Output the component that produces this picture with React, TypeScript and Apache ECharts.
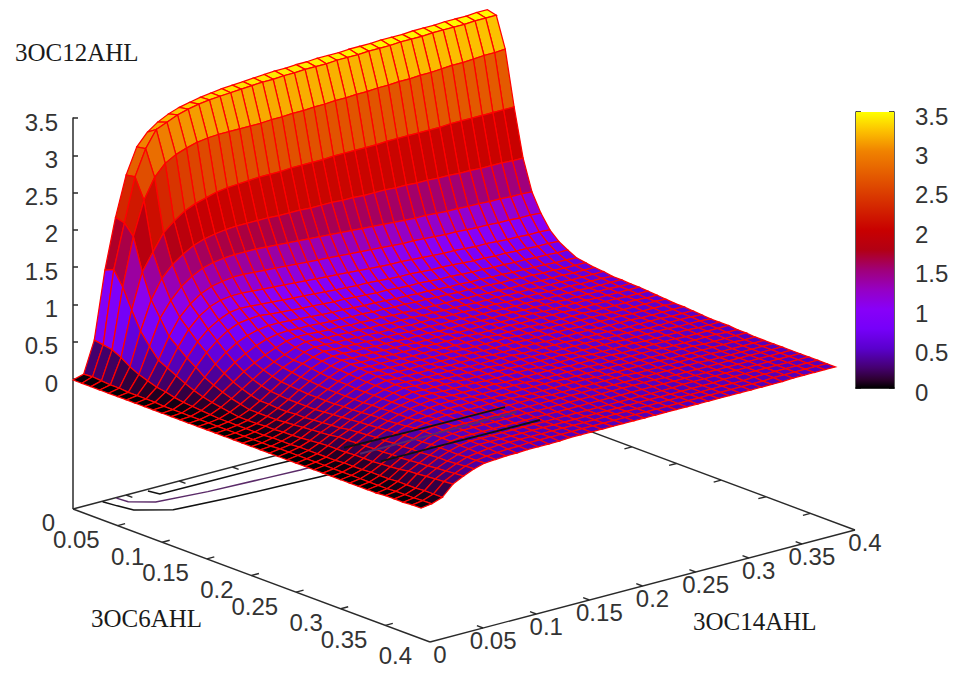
import React, { useEffect, useRef } from "react";
import * as echarts from "echarts";

const xGrid = [0,.01,.02,.03,.04,.05,.06,.07,.08,.09,.1,.11,.12,.13,.14,.15,.16,.17,.18,.19,.2,.21,.22,.23,.24,.25,.26,.27,.28,.29,.3,.31,.32,.33,.34,.35,.36,.37,.38,.39];
const yGrid = xGrid;
// one row per 3OC6AHL value, one column per 3OC14AHL value
const zRows = [
[0,.04,.46,1.36,2.03,2.56,2.9,3.06,3.16,3.23,3.28,3.31,3.34,3.36,3.38,3.39,3.4,3.41,3.42,3.43,3.43,3.44,3.44,3.45,3.45,3.45,3.46,3.46,3.46,3.47,3.47,3.47,3.48,3.48,3.48,3.49,3.49,3.49,3.5,3.5],
[0,.05,.44,1.41,2,2.58,2.92,3.14,3.2,3.26,3.3,3.33,3.35,3.36,3.37,3.38,3.39,3.4,3.4,3.41,3.41,3.42,3.42,3.42,3.43,3.43,3.43,3.44,3.44,3.44,3.45,3.45,3.45,3.46,3.46,3.46,3.46,3.47,3.47,3.47],
[0,.04,.42,1.22,1.86,2.31,2.58,2.73,2.81,2.86,2.9,2.92,2.93,2.93,2.93,2.93,2.93,2.94,2.94,2.95,2.95,2.96,2.96,2.97,2.97,2.98,2.98,2.99,2.99,3,3,3.01,3.01,3.02,3.03,3.03,3.04,3.05,3.05,3.06],
[0,.03,.36,.96,1.43,1.66,1.88,2,2.1,2.16,2.2,2.24,2.26,2.27,2.28,2.29,2.29,2.29,2.3,2.3,2.3,2.3,2.31,2.31,2.31,2.31,2.31,2.32,2.32,2.32,2.32,2.32,2.32,2.33,2.33,2.33,2.33,2.33,2.33,2.33],
[0,.03,.28,.72,1.1,1.35,1.5,1.6,1.68,1.73,1.76,1.78,1.79,1.79,1.79,1.79,1.78,1.78,1.78,1.77,1.77,1.77,1.76,1.76,1.75,1.75,1.75,1.74,1.74,1.73,1.73,1.72,1.72,1.71,1.71,1.7,1.7,1.7,1.69,1.69],
[0,.02,.22,.56,.9,1.1,1.25,1.35,1.42,1.46,1.48,1.49,1.49,1.49,1.48,1.47,1.46,1.45,1.44,1.43,1.42,1.41,1.4,1.39,1.38,1.37,1.36,1.35,1.34,1.34,1.33,1.32,1.32,1.31,1.31,1.3,1.3,1.29,1.29,1.28],
[0,.02,.18,.42,.7,.92,1.06,1.16,1.22,1.25,1.27,1.27,1.26,1.25,1.24,1.23,1.22,1.21,1.2,1.19,1.18,1.17,1.16,1.15,1.14,1.13,1.12,1.12,1.11,1.1,1.09,1.09,1.08,1.07,1.07,1.06,1.06,1.05,1.05,1.04],
[0,.02,.14,.36,.6,.8,.94,1.03,1.08,1.1,1.1,1.09,1.08,1.07,1.06,1.05,1.04,1.03,1.02,1.01,1,.99,.98,.97,.96,.96,.95,.94,.93,.92,.92,.91,.9,.9,.89,.88,.88,.87,.87,.86],
[0,.02,.12,.3,.5,.68,.81,.9,.96,.98,.97,.96,.95,.94,.93,.92,.91,.9,.89,.88,.87,.87,.86,.85,.84,.84,.83,.82,.82,.81,.8,.79,.79,.78,.78,.77,.77,.76,.76,.75],
[0,.01,.09,.24,.42,.58,.7,.8,.86,.88,.89,.87,.86,.85,.84,.83,.82,.81,.81,.8,.79,.78,.78,.77,.76,.76,.75,.74,.74,.73,.72,.72,.71,.71,.7,.7,.69,.69,.68,.68],
[0,.01,.07,.19,.33,.47,.59,.68,.74,.78,.8,.8,.79,.78,.77,.76,.75,.75,.74,.73,.73,.72,.71,.71,.7,.7,.69,.68,.68,.67,.67,.66,.66,.65,.65,.64,.64,.63,.63,.62],
[0,.01,.06,.15,.27,.39,.5,.58,.65,.7,.73,.74,.73,.73,.72,.71,.71,.7,.7,.69,.69,.68,.68,.67,.67,.66,.66,.65,.65,.64,.64,.63,.63,.62,.62,.61,.61,.6,.6,.6],
[0,.01,.05,.12,.22,.32,.42,.5,.57,.63,.68,.7,.7,.69,.68,.68,.67,.67,.66,.66,.65,.65,.64,.64,.63,.63,.63,.62,.62,.61,.61,.6,.6,.6,.59,.59,.59,.58,.58,.58],
[0,.01,.04,.1,.18,.27,.36,.45,.52,.58,.64,.68,.67,.66,.66,.65,.65,.64,.64,.63,.63,.63,.62,.62,.61,.61,.61,.6,.6,.6,.59,.59,.59,.58,.58,.58,.57,.57,.57,.57],
[0,.01,.03,.08,.15,.23,.32,.41,.49,.55,.62,.65,.65,.64,.64,.63,.63,.62,.62,.62,.61,.61,.61,.6,.6,.6,.59,.59,.59,.58,.58,.58,.58,.57,.57,.57,.56,.56,.56,.55],
[0,.01,.03,.06,.12,.2,.29,.38,.47,.55,.6,.64,.63,.63,.62,.62,.61,.61,.61,.6,.6,.6,.59,.59,.59,.58,.58,.58,.57,.57,.57,.57,.56,.56,.56,.56,.55,.55,.55,.55],
[0,.01,.03,.06,.12,.2,.28,.37,.45,.53,.59,.62,.62,.61,.61,.6,.6,.6,.59,.59,.59,.58,.58,.58,.58,.57,.57,.57,.57,.56,.56,.56,.56,.55,.55,.55,.55,.55,.54,.54],
[0,.01,.03,.06,.12,.19,.27,.36,.44,.51,.57,.61,.6,.6,.6,.59,.59,.59,.58,.58,.58,.58,.57,.57,.57,.57,.56,.56,.56,.56,.55,.55,.55,.55,.55,.54,.54,.54,.54,.54],
[0,.01,.03,.07,.12,.19,.27,.35,.43,.5,.56,.6,.59,.59,.59,.58,.58,.58,.58,.57,.57,.57,.57,.56,.56,.56,.56,.55,.55,.55,.55,.55,.54,.54,.54,.54,.54,.53,.53,.53],
[0,.01,.03,.07,.13,.2,.27,.35,.42,.49,.55,.59,.58,.58,.58,.57,.57,.57,.57,.56,.56,.56,.56,.56,.55,.55,.55,.55,.54,.54,.54,.54,.54,.53,.53,.53,.53,.53,.52,.52],
[0,.01,.04,.08,.14,.2,.27,.35,.42,.49,.54,.58,.57,.57,.57,.57,.56,.56,.56,.56,.55,.55,.55,.55,.55,.54,.54,.54,.54,.54,.53,.53,.53,.53,.52,.52,.52,.52,.52,.51],
[0,.01,.04,.08,.15,.21,.28,.35,.42,.48,.53,.57,.56,.56,.56,.56,.55,.55,.55,.55,.55,.54,.54,.54,.54,.53,.53,.53,.53,.53,.52,.52,.52,.52,.52,.51,.51,.51,.51,.5],
[0,.02,.04,.09,.16,.22,.29,.36,.42,.48,.53,.56,.55,.55,.55,.55,.55,.54,.54,.54,.54,.53,.53,.53,.53,.53,.52,.52,.52,.52,.52,.51,.51,.51,.51,.5,.5,.5,.5,.5],
[0,.02,.05,.1,.17,.23,.3,.36,.42,.48,.52,.55,.55,.54,.54,.54,.54,.54,.53,.53,.53,.53,.53,.52,.52,.52,.52,.52,.51,.51,.51,.51,.5,.5,.5,.5,.5,.49,.49,.49],
[0,.02,.05,.11,.18,.24,.31,.37,.43,.48,.52,.55,.54,.54,.54,.53,.53,.53,.53,.53,.52,.52,.52,.52,.52,.51,.51,.51,.51,.51,.5,.5,.5,.5,.49,.49,.49,.49,.49,.48],
[0,.02,.05,.12,.2,.26,.32,.38,.43,.48,.51,.54,.53,.53,.53,.53,.52,.52,.52,.52,.52,.51,.51,.51,.51,.51,.5,.5,.5,.5,.5,.49,.49,.49,.49,.49,.48,.48,.48,.47],
[0,.02,.05,.12,.2,.27,.33,.39,.44,.48,.51,.53,.53,.52,.52,.52,.52,.51,.51,.51,.51,.51,.5,.5,.5,.5,.5,.49,.49,.49,.49,.49,.48,.48,.48,.48,.48,.47,.47,.47],
[0,.02,.05,.12,.21,.28,.34,.39,.44,.48,.5,.52,.52,.51,.51,.51,.51,.51,.5,.5,.5,.5,.5,.5,.49,.49,.49,.49,.49,.48,.48,.48,.48,.48,.48,.47,.47,.47,.47,.47],
[0,.02,.06,.13,.21,.29,.35,.4,.44,.47,.5,.51,.51,.51,.5,.5,.5,.5,.5,.5,.49,.49,.49,.49,.49,.49,.48,.48,.48,.48,.48,.48,.47,.47,.47,.47,.47,.47,.46,.46],
[0,.02,.06,.13,.22,.29,.36,.41,.45,.47,.49,.5,.5,.5,.5,.49,.49,.49,.49,.49,.49,.49,.48,.48,.48,.48,.48,.48,.47,.47,.47,.47,.47,.47,.47,.46,.46,.46,.46,.46],
[0,.02,.06,.13,.22,.3,.37,.43,.46,.48,.49,.49,.49,.49,.49,.49,.49,.48,.48,.48,.48,.48,.48,.48,.47,.47,.47,.47,.47,.47,.47,.46,.46,.46,.46,.46,.46,.46,.45,.45],
[0,.02,.07,.14,.23,.3,.37,.43,.46,.47,.48,.48,.48,.48,.48,.48,.48,.48,.48,.47,.47,.47,.47,.47,.47,.47,.47,.46,.46,.46,.46,.46,.46,.46,.46,.45,.45,.45,.45,.45],
[0,.02,.07,.15,.23,.31,.37,.43,.45,.47,.47,.47,.47,.47,.47,.47,.47,.47,.47,.47,.47,.47,.47,.46,.46,.46,.46,.46,.46,.46,.46,.46,.46,.45,.45,.45,.45,.45,.45,.45],
[0,.02,.07,.16,.24,.31,.38,.43,.45,.46,.46,.46,.46,.46,.46,.46,.46,.46,.46,.46,.46,.46,.46,.46,.46,.46,.46,.46,.45,.45,.45,.45,.45,.45,.45,.45,.45,.45,.45,.45],
[0,.02,.08,.18,.25,.32,.38,.43,.45,.45,.45,.45,.45,.45,.45,.45,.45,.45,.45,.45,.45,.45,.45,.45,.45,.45,.45,.45,.45,.45,.45,.45,.45,.45,.45,.45,.45,.45,.45,.45],
[.01,.03,.08,.19,.26,.33,.38,.42,.44,.44,.44,.44,.44,.44,.44,.44,.44,.44,.44,.44,.44,.44,.44,.44,.44,.44,.44,.44,.45,.45,.45,.45,.45,.45,.45,.45,.45,.45,.45,.45],
[.01,.03,.08,.2,.27,.33,.38,.42,.44,.44,.44,.44,.44,.44,.44,.44,.44,.44,.44,.44,.44,.44,.44,.44,.44,.44,.44,.44,.44,.44,.44,.45,.45,.45,.45,.45,.45,.45,.45,.45],
[.01,.03,.09,.21,.28,.34,.39,.41,.43,.44,.44,.44,.44,.44,.44,.44,.44,.44,.44,.44,.44,.44,.44,.44,.44,.44,.44,.44,.44,.44,.44,.44,.44,.45,.45,.45,.45,.45,.45,.45],
[.02,.04,.09,.22,.29,.35,.39,.41,.42,.43,.43,.44,.44,.44,.44,.44,.44,.44,.44,.44,.44,.44,.44,.44,.44,.44,.44,.44,.44,.44,.44,.44,.44,.44,.45,.45,.45,.45,.45,.45],
[.02,.04,.09,.23,.3,.36,.4,.41,.42,.42,.43,.43,.43,.43,.44,.44,.44,.44,.44,.44,.44,.44,.44,.44,.44,.44,.44,.44,.44,.44,.44,.44,.44,.44,.44,.45,.45,.45,.45,.45],
];

// base-plane contours as [3OC6AHL, 3OC14AHL]
const contourOuter = [[.001,.027],[.015,.029],[.03,.032],[.048,.054],[.053,.1],[.056,.15],[.058,.183],[.059,.24],[.059,.3],[.06,.389]];
const contourMiddle = [[.001,.04],[.013,.041],[.026,.056],[.032,.1],[.035,.15],[.037,.183],[.036,.24],[.036,.3],[.035,.388]];
const contourInner = [[.003,.068],[.014,.07],[.0145,.12],[.0153,.175],[.018,.24],[.02,.3],[.021,.389]];

const xTicks = [0,.05,.1,.15,.2,.25,.3,.35,.4];
const yTicks = [0,.05,.1,.15,.2,.25,.3,.35,.4];
const xTickLabels = ["0","0.05","0.1","0.15","0.2","0.25","0.3","0.35","0.4"];
const yTickLabels = ["0","0.05","0.1","0.15","0.2","0.25","0.3","0.35","0.4"];

const paletteStops = [
  [0,0,0,0],[.1,43,0,45],[.25,68,0,110],[.5,90,0,205],[.75,118,0,249],[1,136,0,248],[1.25,150,0,195],[1.5,160,0,120],
  [1.75,178,0,20],[2,200,0,0],[2.5,220,65,0],[3,240,130,0],[3.25,252,190,0],[3.5,255,255,0],
];

const ZMAX = 3.5;
const BASE_Z = -1.729;
const NUM = "'Liberation Sans', Arial, sans-serif";
const SERIF = "'Liberation Serif', 'Times New Roman', serif";
const INK = "#2a2a2a";

function project(x: number, y: number, z: number): number[] {
  return [73 + x * 892.5 + y * 1062.5, 380 + x * 332.5 - y * 280 - z * 74.6];
}
function paletteColor(z: number): string {
  for (let k = 1; k < paletteStops.length; k++) {
    const a = paletteStops[k - 1], b = paletteStops[k];
    if (z <= b[0]) {
      const t = Math.max(0, (z - a[0]) / (b[0] - a[0]));
      return `rgb(${Math.round(a[1] + (b[1] - a[1]) * t)},${Math.round(a[2] + (b[2] - a[2]) * t)},${Math.round(a[3] + (b[3] - a[3]) * t)})`;
    }
  }
  return "rgb(255,255,0)";
}
function zAt(i: number, j: number): number {
  const r = zRows[i];
  return r[Math.min(j, r.length - 1)];
}

export default function App() {
  const ref = useRef<HTMLDivElement>(null);
  useEffect(() => {
    document.body.style.margin = "0";
    const chart = echarts.init(ref.current!, null, { renderer: "svg" });

    // cells painted from the far corner to the near one
    const cells: number[][] = [];
    for (let i = 0; i < xGrid.length - 1; i++)
      for (let j = 0; j < yGrid.length - 1; j++) cells.push([i, j]);
    cells.sort((a, b) => (a[0] - a[1]) - (b[0] - b[1]));

    const frame: number[][] = [
      [0, 0, .4, 0], [.4, 0, .4, .4], [.4, .4, 0, .4], [0, .4, 0, 0],
    ];
    xTicks.slice(1, -1).forEach((t) => { frame.push([t, 0, t, .007]); frame.push([t, .4, t, .393]); });
    yTicks.slice(1, -1).forEach((t) => { frame.push([.4, t, .393, t]); frame.push([0, t, .007, t]); });

    const surfaceItem = (params: any, api: any) => {
      const [i, j] = cells[params.dataIndex];
      const c = [[i, j], [i + 1, j], [i + 1, j + 1], [i, j + 1]];
      let sum = 0;
      const points = c.map(([a, b]) => {
        const z = zAt(a, b);
        sum += z;
        return api.coord(project(xGrid[a], yGrid[b], z));
      });
      return {
        type: "polygon",
        shape: { points },
        style: { fill: paletteColor(sum / 4), stroke: "#ff0000", lineWidth: 1.25 },
      };
    };
    const contourSet = [
      { pts: contourOuter, color: "#111111" },
      { pts: contourMiddle, color: "#5a2a68" },
      { pts: contourInner, color: "#111111" },
    ];
    const contourItem = (minY: number, width: number) => (params: any, api: any) => {
      const c = contourSet[params.dataIndex];
      return {
        type: "polyline",
        shape: { points: c.pts.filter((p) => p[1] >= minY).map((p) => api.coord(project(p[0], p[1], BASE_Z))) },
        style: { stroke: c.color, fill: "none", lineWidth: width },
      };
    };
    const label = (text: string, p: number[], align: string) => ({
      type: "text",
      style: { text, x: p[0], y: p[1], align, verticalAlign: "middle", font: `24px ${NUM}`, fill: "#333333" },
    });

    const option: any = {
      animation: false,
      backgroundColor: "#ffffff",
      grid: [
        { left: 0, top: 0, width: 956, height: 674 },
        { left: 73, top: 118, width: 5, height: 261 },
        { left: 856, top: 112, width: 38, height: 276 },
      ],
      xAxis: [
        { gridIndex: 0, type: "value", min: 0, max: 956, show: false },
        { gridIndex: 1, type: "value", min: 0, max: 1, show: false },
        { gridIndex: 2, type: "category", data: ["cb"], position: "bottom", axisTick: { show: false }, axisLabel: { show: false }, axisLine: { lineStyle: { color: INK, width: 1.5 } } },
        { gridIndex: 2, type: "category", data: ["cb"], position: "top", axisTick: { show: false }, axisLabel: { show: false }, axisLine: { lineStyle: { color: INK, width: 1.5 } } },
      ],
      yAxis: [
        { gridIndex: 0, type: "value", min: 0, max: 674, inverse: true, show: false },
        {
          gridIndex: 1, type: "value", min: 0, max: ZMAX, interval: .5, position: "left",
          axisLine: { show: true, lineStyle: { color: INK, width: 1.5 } },
          axisTick: { show: true, inside: true, length: 5, lineStyle: { color: INK, width: 1.5 } },
          axisLabel: { margin: 15, fontSize: 24, fontFamily: NUM, color: "#333333", verticalAlign: "top", lineHeight: 8, formatter: (v: number) => String(v) },
          splitLine: { show: false },
        },
        {
          gridIndex: 2, type: "value", min: 0, max: ZMAX, interval: .5, position: "right",
          axisLine: { show: true, lineStyle: { color: INK, width: 1.5 } },
          axisTick: { show: true, inside: true, length: 5, lineStyle: { color: "#111111", width: 1.5 } },
          axisLabel: { margin: 21, fontSize: 24, fontFamily: NUM, color: "#333333", align: "left", verticalAlign: "top", lineHeight: 8, formatter: (v: number) => String(v) },
          splitLine: { show: false },
        },
        {
          gridIndex: 2, type: "value", min: 0, max: ZMAX, interval: .5, position: "left",
          axisLine: { show: true, lineStyle: { color: INK, width: 1.5 } },
          axisTick: { show: true, inside: true, length: 5, lineStyle: { color: "#111111", width: 1.5 } },
          axisLabel: { show: false }, splitLine: { show: false },
        },
      ],
      graphic: [
        { type: "text", left: 15, top: 40, style: { text: "3OC12AHL", font: `25px ${SERIF}`, fill: "#1a1a1a" } },
        { type: "text", left: 91, top: 606, style: { text: "3OC6AHL", font: `25px ${SERIF}`, fill: "#1a1a1a" } },
        { type: "text", left: 693, top: 609, style: { text: "3OC14AHL", font: `25px ${SERIF}`, fill: "#1a1a1a" } },
      ],
      series: [
        {
          type: "bar", xAxisIndex: 2, yAxisIndex: 2, data: [ZMAX], barWidth: "100%", silent: true, z: 1,
          itemStyle: {
            color: new echarts.graphic.LinearGradient(0, 1, 0, 0,
              paletteStops.map((s) => ({ offset: s[0] / ZMAX, color: `rgb(${s[1]},${s[2]},${s[3]})` }))),
          },
        },
        {
          type: "custom", coordinateSystem: "cartesian2d", xAxisIndex: 0, yAxisIndex: 0, z: 2, silent: true, clip: false,
          data: frame.map((_, k) => [k]),
          renderItem: (params: any, api: any) => {
            const f = frame[params.dataIndex];
            const a = api.coord(project(f[0], f[1], BASE_Z));
            const b = api.coord(project(f[2], f[3], BASE_Z));
            return { type: "line", shape: { x1: a[0], y1: a[1], x2: b[0], y2: b[1] }, style: { stroke: INK, lineWidth: 1.4 } };
          },
        },
        {
          type: "custom", coordinateSystem: "cartesian2d", xAxisIndex: 0, yAxisIndex: 0, z: 2, silent: true, clip: false,
          data: [[0]],
          renderItem: (_: any, api: any) => {
            const a = api.coord(project(0, 0, 0));
            const b = api.coord(project(0, 0, BASE_Z));
            return { type: "line", shape: { x1: a[0], y1: a[1], x2: b[0], y2: b[1] }, style: { stroke: INK, lineWidth: 1.5 } };
          },
        },
        {
          type: "custom", coordinateSystem: "cartesian2d", xAxisIndex: 0, yAxisIndex: 0, z: 2, silent: true, clip: false,
          data: contourSet.map((_, k) => [k]), renderItem: contourItem(0, 1.5),
        },
        {
          type: "custom", coordinateSystem: "cartesian2d", xAxisIndex: 0, yAxisIndex: 0, z: 3, silent: true, clip: false,
          data: cells.map((_, k) => [k]), renderItem: surfaceItem,
        },
        {
          type: "custom", coordinateSystem: "cartesian2d", xAxisIndex: 0, yAxisIndex: 0, z: 4, silent: true, clip: false,
          data: contourSet.map((_, k) => [k]), renderItem: contourItem(.22, 1.9),
        },
        {
          type: "custom", coordinateSystem: "cartesian2d", xAxisIndex: 0, yAxisIndex: 0, z: 5, silent: true, clip: false,
          data: xTicks.map((_, k) => [k]),
          renderItem: (params: any, api: any) => {
            const p = api.coord(project(xTicks[params.dataIndex], 0, BASE_Z));
            return label(xTickLabels[params.dataIndex], [p[0] - 18, p[1] + 14], "right");
          },
        },
        {
          type: "custom", coordinateSystem: "cartesian2d", xAxisIndex: 0, yAxisIndex: 0, z: 5, silent: true, clip: false,
          data: yTicks.map((_, k) => [k]),
          renderItem: (params: any, api: any) => {
            const p = api.coord(project(.4, yTicks[params.dataIndex], BASE_Z));
            return label(yTickLabels[params.dataIndex], [p[0] + 10, p[1] + 13], "center");
          },
        },
      ],
    };
    chart.setOption(option);
    return () => chart.dispose();
  }, []);
  return <div ref={ref} style={{ width: 956, height: 674 }} />;
}
